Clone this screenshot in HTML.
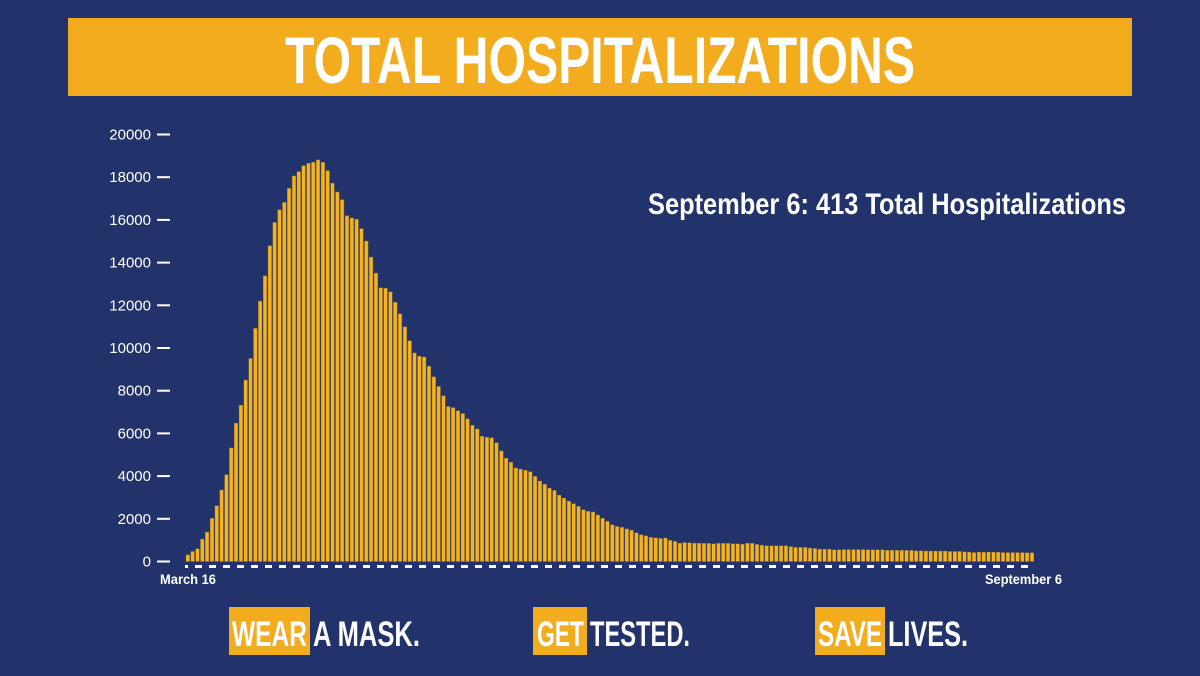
<!DOCTYPE html>
<html><head><meta charset="utf-8"><style>
html,body{margin:0;padding:0;background:#22336b;width:1200px;height:676px;overflow:hidden}
svg{display:block}
text{font-family:"Liberation Sans",sans-serif;font-weight:bold}
</style></head><body>
<svg id="chart" width="1200" height="676" viewBox="0 0 1200 676" xmlns="http://www.w3.org/2000/svg">
<rect width="1200" height="676" fill="#22336b"/>
<rect x="68" y="18" width="1064" height="78" fill="#f4ac1f"/>
<text x="600" y="83" text-anchor="middle" font-size="66" fill="#fff" textLength="630" lengthAdjust="spacingAndGlyphs">TOTAL HOSPITALIZATIONS</text>
<text x="648" y="214" font-size="30" fill="#fff" textLength="478" lengthAdjust="spacingAndGlyphs">September 6: 413 Total Hospitalizations</text>
<g id="yaxis"></g>
<g id="bars"></g>
<g id="baseline"></g>
<text x="160" y="584" font-size="14" fill="#fff" textLength="56" lengthAdjust="spacingAndGlyphs">March 16</text>
<text x="985" y="584" font-size="14" fill="#fff" textLength="77" lengthAdjust="spacingAndGlyphs">September 6</text>
<rect x="229" y="607" width="81" height="48" fill="#f4ac1f"/>
<text x="232" y="646" font-size="35" fill="#fff" textLength="75" lengthAdjust="spacingAndGlyphs">WEAR</text>
<text x="313" y="646" font-size="35" fill="#fff" textLength="107" lengthAdjust="spacingAndGlyphs">A MASK.</text>
<rect x="533" y="607" width="54" height="48" fill="#f4ac1f"/>
<text x="537" y="646" font-size="35" fill="#fff" textLength="47" lengthAdjust="spacingAndGlyphs">GET</text>
<text x="590" y="646" font-size="35" fill="#fff" textLength="100" lengthAdjust="spacingAndGlyphs">TESTED.</text>
<rect x="815" y="607" width="70" height="48" fill="#f4ac1f"/>
<text x="818" y="646" font-size="35" fill="#fff" textLength="64" lengthAdjust="spacingAndGlyphs">SAVE</text>
<text x="888" y="646" font-size="35" fill="#fff" textLength="80" lengthAdjust="spacingAndGlyphs">LIVES.</text>
</svg>
<script>
const yTicks = [0,2000,4000,6000,8000,10000,12000,14000,16000,18000,20000];
const values = [310,470,600,1050,1380,2030,2610,3350,4070,5320,
6480,7320,8500,9510,10920,12200,13380,14790,15880,16480,
16820,17480,18060,18260,18540,18650,18700,18810,18700,18310,
17720,17310,16950,16200,16090,16030,15590,15010,14260,13510,
12820,12800,12630,12140,11600,10990,10340,9770,9620,9580,
9150,8650,8200,7760,7260,7210,7060,6930,6680,6380,
6210,5870,5820,5800,5560,5180,4840,4650,4380,4330,
4270,4210,3990,3770,3620,3430,3330,3110,2970,2830,
2710,2580,2430,2350,2320,2180,2030,1880,1720,1640,
1600,1530,1470,1350,1250,1200,1130,1110,1080,1100,
990,940,860,890,880,860,860,850,850,830,
850,850,850,830,830,810,860,850,800,760,
740,740,740,740,740,700,660,660,660,630,
610,580,580,580,550,550,560,560,560,560,
560,550,550,550,550,530,530,530,530,520,
520,500,500,490,490,490,490,490,470,470,
470,450,440,420,440,440,440,440,440,420,
420,420,420,420,410,413];
const NS="http://www.w3.org/2000/svg";
const x0=186, x1=1035, yBase=561.5, yTop=134.5, yMax=20000;
const yScale=v=>yBase-(v/yMax)*(yBase-yTop);
const pitch=(x1-x0)/values.length;
const xScale=i=>x0+i*pitch;
const yaxis=document.getElementById('yaxis');
yTicks.forEach(t=>{
  const tx=document.createElementNS(NS,'text');
  
  
  tx.setAttribute('x',151);tx.setAttribute('y',yScale(t)+5);
  tx.setAttribute('text-anchor','end');tx.setAttribute('font-size','15');
  tx.setAttribute('style','font-weight:normal');tx.setAttribute('fill','#fff');
  tx.textContent=t;yaxis.appendChild(tx);
  const ln=document.createElementNS(NS,'line');
  
  
  ln.setAttribute('x1',157);ln.setAttribute('x2',170);
  ln.setAttribute('y1',yScale(t));ln.setAttribute('y2',yScale(t));
  ln.setAttribute('stroke','#fff');ln.setAttribute('stroke-width','2');
  yaxis.appendChild(ln);
});
const bars=document.getElementById('bars');
values.forEach((v,i)=>{
  const r=document.createElementNS(NS,'rect');
  
  
  const y=yScale(v);
  r.setAttribute('x',xScale(i));r.setAttribute('y',y);
  r.setAttribute('width',pitch-1.2);r.setAttribute('height',yBase-y);
  r.setAttribute('fill','#f5b320');r.setAttribute('stroke','#8a7030');r.setAttribute('stroke-width','0.4');
  bars.appendChild(r);
});
const bl=document.createElementNS(NS,'line');


bl.setAttribute('x1',185);bl.setAttribute('x2',1035);
bl.setAttribute('y1',566.5);bl.setAttribute('y2',566.5);
bl.setAttribute('stroke','#fff');bl.setAttribute('stroke-width','3');
bl.setAttribute('stroke-dasharray','7 7');
bl.setAttribute('stroke-dashoffset','4');
document.getElementById('baseline').appendChild(bl);
</script>
</body></html>
